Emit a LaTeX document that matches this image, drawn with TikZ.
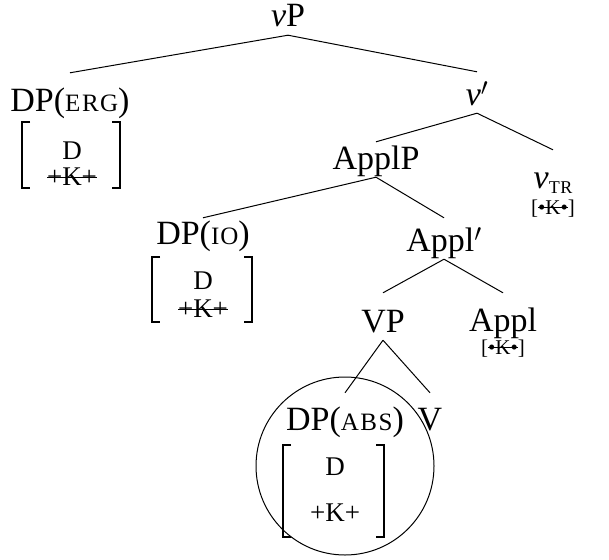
\documentclass[tikz,border=0pt]{standalone}
\usepackage{fontspec}
\setmainfont{Liberation Serif}
\newcommand\strk[2][0.26em]{\setbox0=\hbox{#2}\rlap{\raisebox{#1}{\rule{\wd0}{1.1pt}}}\box0}
\newcommand\fsc[1]{{\fontsize{25}{25}\selectfont #1}}
\begin{document}
\begin{tikzpicture}[x=1pt,y=-1pt,
  lbl/.style={inner sep=0pt,anchor=base,font=\fontsize{34}{36}\selectfont,text height=23pt,text depth=8pt},
  sm/.style={inner sep=0pt,anchor=base,font=\fontsize{27}{29}\selectfont},
  fk/.style={inner sep=0pt,anchor=base,font=\fontsize{21}{23}\selectfont},
  edge/.style={line width=1pt},
  brk/.style={line width=1.3pt}]
\useasboundingbox (0,0) rectangle (609,559);

% tree labels
\node[lbl] (vP) at (288,27) {{\itshape v}P};
\node[lbl] (erg) at (70,111) {DP(\fsc{E\kern1.5pt R\kern1.5pt G})};
\node[lbl] (vbar) at (477,105) {{\itshape v}$'$};
\node[lbl] (applp) at (376,169) {ApplP};
\node[lbl] (vtr) at (553,188) {{\itshape v}\raisebox{-5pt}{\fontsize{18}{18}\selectfont T\kern0.5pt R}};
\node[fk] (vtrk) at (553,214) {[\strk[0.3em]{\textbullet K\textbullet}]};
\node[lbl] (io) at (203,244) {DP(\fsc{I\kern1pt O})};
\node[lbl] (applbar) at (444,251) {Appl$'$};
\node[lbl] (vp) at (383,332) {VP};
\node[lbl] (appl) at (503,331) {Appl};
\node[fk] (applk) at (503,354) {[\strk[0.3em]{\textbullet K\textbullet}]};
\node[lbl] (abs) at (345,430) {DP(\fsc{A\kern1.5pt B\kern1.5pt S})};
\node[lbl] (v) at (430,430) {V};

% edges
\draw[edge] (vP.south) -- ([yshift=15pt]erg.north);
\draw[edge] (vP.south) -- ([yshift=10pt]vbar.north);
\draw[edge] (vbar.south) -- ([yshift=4pt]applp.north);
\draw[edge] (vbar.south) -- ([yshift=15pt]vtr.north);
\draw[edge] (applp.south) -- ([yshift=3pt]io.north);
\draw[edge] (applp.south) -- ([yshift=10pt]applbar.north);
\draw[edge] (applbar.south) -- ([yshift=16pt]vp.north);
\draw[edge] (applbar.south) -- ([yshift=15pt]appl.north);
\draw[edge] (vp.south) -- ([yshift=14pt]abs.north);
\draw[edge] (vp.south) -- ([yshift=14pt]v.north);

% ERG matrix
\draw[brk] (30,122) -- (22,122) -- (22,188) -- (30,188);
\draw[brk] (112,122) -- (120,122) -- (120,188) -- (112,188);
\node[sm] (ergd) at (72,159) {D};
\node[sm] (ergk) at (72,185) {\strk{+K+}};

% IO matrix
\draw[brk] (160,257) -- (152,257) -- (152,322) -- (160,322);
\draw[brk] (244,257) -- (252,257) -- (252,322) -- (244,322);
\node[sm] (iod) at (203,289) {D};
\node[sm] (iok) at (203,317) {\strk{+K+}};

% ABS matrix
\draw[brk] (291,445) -- (283,445) -- (283,537) -- (291,537);
\draw[brk] (376,445) -- (384,445) -- (384,537) -- (376,537);
\node[sm] (absd) at (335,475) {D};
\node[sm] (absk) at (335,521) {+K+};

% circle
\node[draw,circle,line width=1pt,minimum size=178pt,inner sep=0pt] (ring) at (345,466) {};
\end{tikzpicture}
\end{document}
